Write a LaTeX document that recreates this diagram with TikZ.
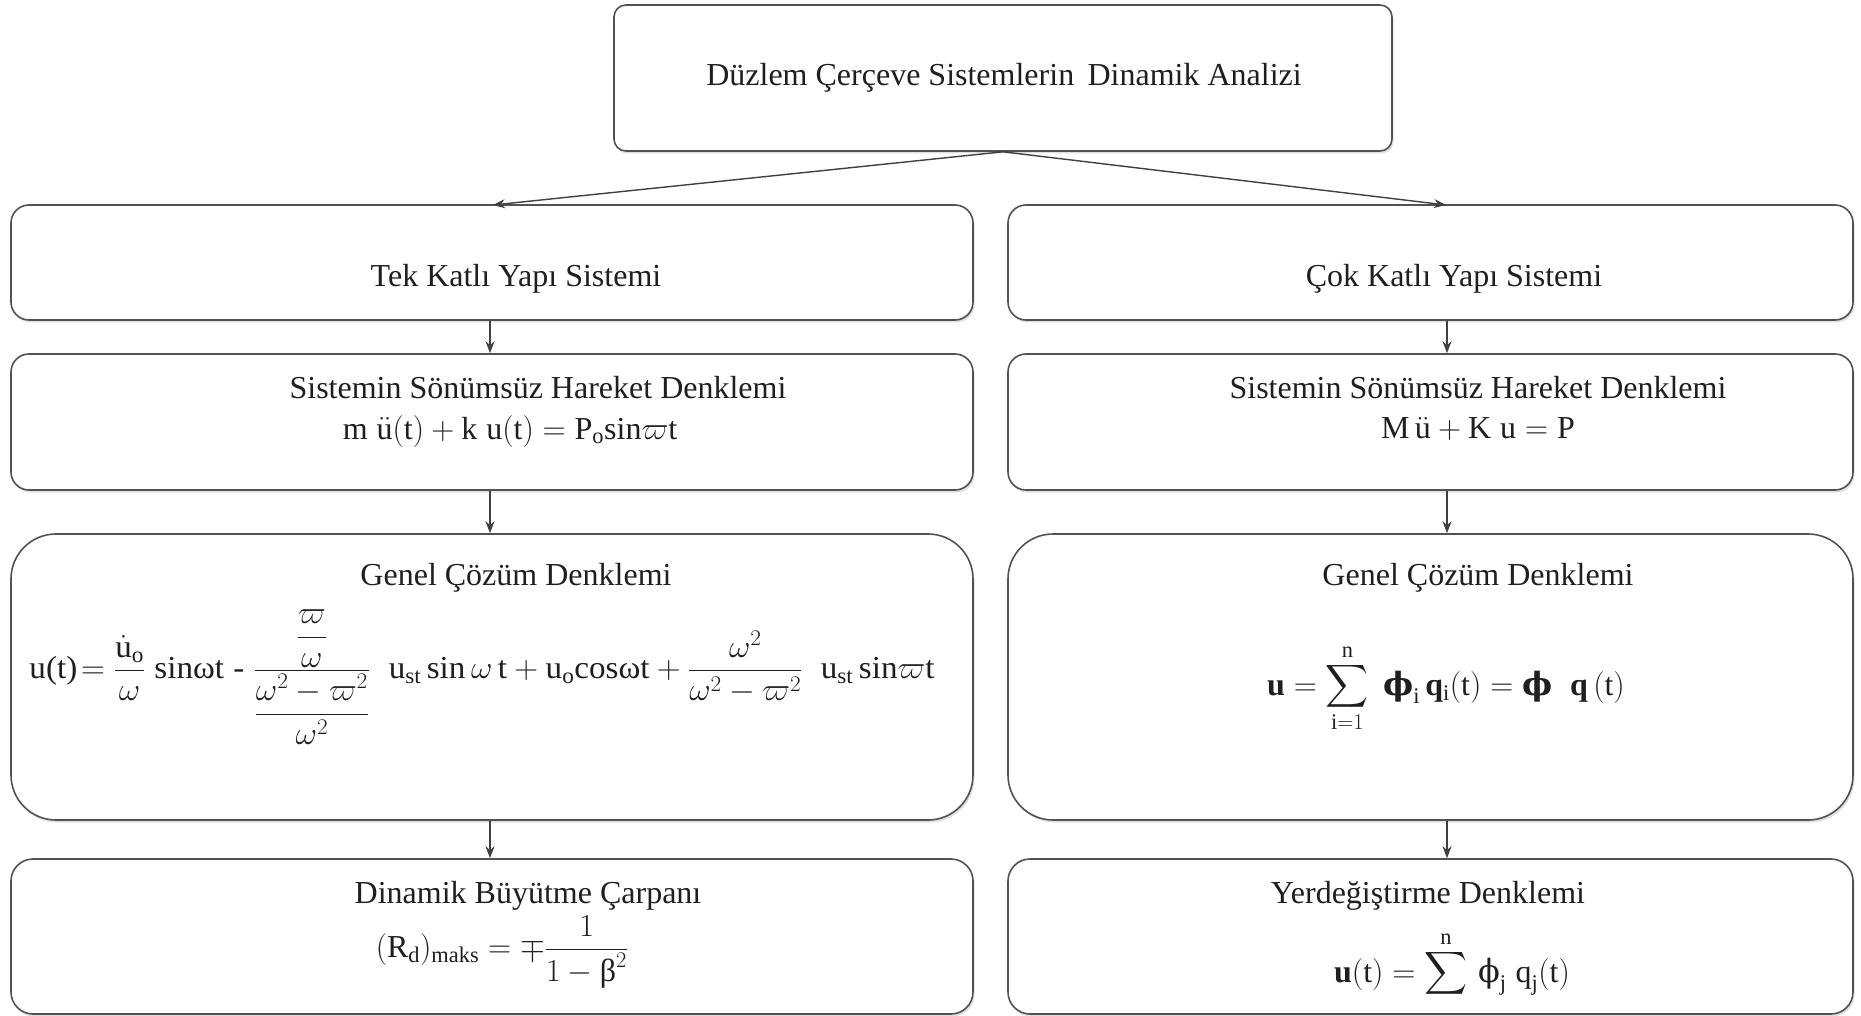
\documentclass[tikz,border=0pt]{standalone}
\usepackage{fix-cm}
\usepackage{amsmath}
\usepackage{fontspec}
\setmainfont{Liberation Serif}
\newfontfamily\dvs{DejaVu Serif}
\usetikzlibrary{shadows,arrows.meta}
\newcommand{\tx}[1]{\text{#1}}
\newcommand{\vphi}{\text{\dvs ϕ}}
\newcommand{\bvphi}{\text{\dvs\bfseries ϕ}}
\begin{document}
\begin{tikzpicture}[x=1pt,y=-1pt,
  box/.style={draw=black!68, line width=1.6pt, fill=white, rounded corners=#1,
    inner sep=0pt, drop shadow={opacity=0.25, shadow xshift=1.5pt, shadow yshift=-2.5pt}},
  box/.default=18pt,
  lbl/.style={inner sep=0pt, text=black!88, font=\fontsize{32}{38}\selectfont},
  conn/.style={draw=black!75, line width=1.4pt, -{Stealth[length=12pt,width=9pt]}}]
\useasboundingbox (0,0) rectangle (1861,1016);
% boxes
\node[box=12pt, minimum width=778pt, minimum height=146pt] (top) at (1003,78) {};
\node[box, minimum width=962pt, minimum height=115pt] (l1) at (492,262.5) {};
\node[box, minimum width=845pt, minimum height=115pt] (r1) at (1430.5,262.5) {};
\node[box, minimum width=962pt, minimum height=136pt] (l2) at (492,422) {};
\node[box, minimum width=845pt, minimum height=136pt] (r2) at (1430.5,422) {};
\node[box=45pt, minimum width=962pt, minimum height=286pt] (l3) at (492,677) {};
\node[box=45pt, minimum width=845pt, minimum height=286pt] (r3) at (1430.5,677) {};
\node[box=22pt, minimum width=962pt, minimum height=155pt] (l4) at (492,936.5) {};
\node[box=22pt, minimum width=845pt, minimum height=155pt] (r4) at (1430.5,936.5) {};
% texts
\node[lbl] (ttop) at (1004,78) {Düzlem Çerçeve Sistemlerin\, Dinamik Analizi};
\node[lbl] (tl1) at (516,279) {Tek Katlı Yapı Sistemi};
\node[lbl] (tr1) at (1454,279) {Çok Katlı Yapı Sistemi};
\node[lbl] (tl2) at (538,388) {Sistemin Sönümsüz Hareket Denklemi};
\node[lbl] (el2) at (510,431) {$\tx{m}\;\ddot{\tx{u}}(\tx{t}) + \tx{k}\;\tx{u}(\tx{t}) = \tx{P}_{\tx{o}}\tx{sin}\varpi\tx{t}$};
\node[lbl] (tr2) at (1478,388) {Sistemin Sönümsüz Hareket Denklemi};
\node[lbl] (er2) at (1478,429) {$\tx{M}\,\ddot{\tx{u}} + \tx{K}\;\tx{u} = \tx{P}$};
\node[lbl] (tl3) at (516,578) {Genel Çözüm Denklemi};
\node[lbl] (el3) at (482,677) {\resizebox{905pt}{\height}{$\tx{u(t)}\!=\dfrac{\dot{\tx{u}}_{\tx{o}}}{\omega}\;\tx{sinωt}\;\text{-}\;\dfrac{\dfrac{\varpi}{\omega}}{\dfrac{\omega^2-\varpi^2}{\omega^2}}\;\;\tx{u}_{\tx{st}}\,\tx{sin}\,\omega\,\tx{t} + \tx{u}_{\tx{o}}\tx{cosωt} + \dfrac{\omega^2}{\omega^2-\varpi^2}\;\;\tx{u}_{\tx{st}}\,\tx{sin}\varpi\tx{t}$}};
\node[lbl] (tr3) at (1478,578) {Genel Çözüm Denklemi};
\node[lbl] (er3) at (1446,688) {$\mathbf{u} = \displaystyle\mathop{\scalebox{1.2}{$\displaystyle\sum$}}_{\tx{i}=1}^{\tx{n}}\;\bvphi_{\tx{i}}\,\mathbf{q}_{\tx{i}}(\tx{t}) = \bvphi\;\;\mathbf{q}\,(\tx{t})$};
\node[lbl] (tl4) at (528,896) {Dinamik Büyütme Çarpanı};
\node[lbl] (el4) at (502,952) {$(\tx{R}_{\tx{d}})_{\tx{maks}} = \mp\dfrac{1}{1-\tx{β}^{2}}$};
\node[lbl] (tr4) at (1428,896) {Yerdeğiştirme Denklemi};
\node[lbl] (er4) at (1452,964) {$\mathbf{u}(\tx{t}) = \mathop{\scalebox{1.2}{$\displaystyle\sum$}}\limits^{\tx{n}}\,\vphi_{\tx{j}}\;\tx{q}_{\tx{j}}(\tx{t})$};
% connectors
\coordinate (tl) at (493,205);
\coordinate (tr) at (1446,205);
\draw[conn] (top.south) -- (tl);
\draw[conn] (top.south) -- (tr);
\draw[conn] (l1.south -| 490,0) -- (l2.north -| 490,0);
\draw[conn] (l2.south -| 490,0) -- (l3.north -| 490,0);
\draw[conn] (l3.south -| 490,0) -- (l4.north -| 490,0);
\draw[conn] (r1.south -| 1447,0) -- (r2.north -| 1447,0);
\draw[conn] (r2.south -| 1447,0) -- (r3.north -| 1447,0);
\draw[conn] (r3.south -| 1447,0) -- (r4.north -| 1447,0);
\end{tikzpicture}
\end{document}
